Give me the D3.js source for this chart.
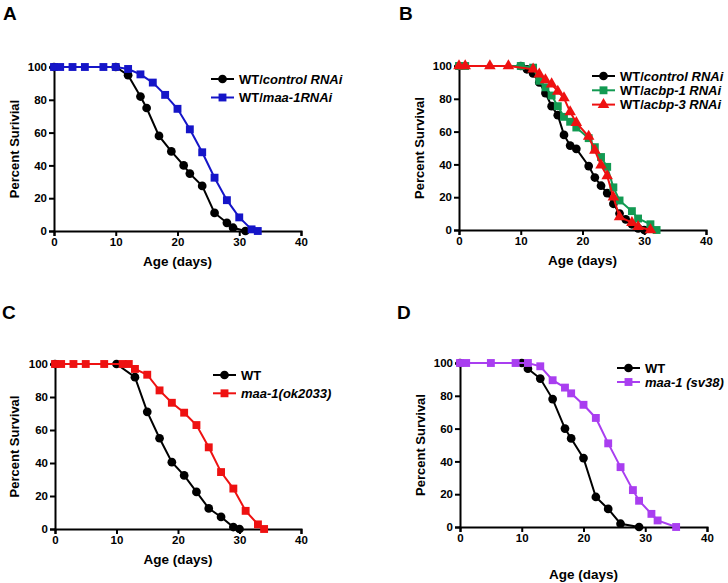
<!DOCTYPE html>
<html lang="en">
<head>
<meta charset="UTF-8">
<title>Survival curves</title>
<script src="https://d3js.org/d3.v7.min.js"></script>
<style>
  body { margin: 0; background: #fff; }
  svg text { font-family: "Liberation Sans", Arial, sans-serif; font-weight: bold; fill: #000; }
  .axis path, .axis line { stroke: #000; stroke-width: 2px; fill: none; }
  .axis text { font-size: 11.5px; }
</style>
</head>
<body>
<script>

// ---- data (day, percent survival) ----
var aControl = [[0,100],[10,100],[12,95],[14,82],[15,75],[17,58],[19,48.5],[21,40],[22,35],[24,27.5],[26,11],[28,5],[29,2],[31,0]];
var aMaa1 = [[0,100],[1,100],[3,100],[5,100],[8,100],[10,100],[12,98.8],[14,95.5],[16,90.5],[18,83],[20,74.5],[22,62],[24,48],[26,32.5],[28,18.8],[30,8.3],[32,1],[33,0]];

var bControl = [[0,100],[10,100],[11,98],[12,95.5],[13,90],[14,83.5],[15,75.5],[16,70],[17,58],[18,51.5],[19,49.5],[21,39],[22,32],[23,27],[24,22.5],[25,16],[26,10],[27,6.5],[28,3.5],[29,1],[30,0]];
var bAcbp1 = [[0,100],[1,100],[10,100],[12,99],[13,91],[14,87],[15,82],[16,75.5],[17,69],[18,66],[19,62.5],[21,56],[22,50.5],[23,44.5],[24,38.5],[25,26],[26,18],[28,11.5],[29,7],[31,3.5],[32,0]];
var bAcbp3 = [[0,100],[1,100],[5,100],[8,100],[12,98],[13,95],[14,91.5],[15,89],[16,84.5],[17,80.5],[18,72],[19,65.5],[21,57],[22,48.5],[23,39.5],[24,33],[25,20],[26,8],[28,4.5],[29,2],[31,0]];

var cWT = [[0,100],[10,100],[13,92],[15,71],[17,55],[19,40.5],[21,32.5],[23,22.5],[25,12.5],[27,7.3],[29,1.2],[30,0]];
var cMaa1 = [[0,100],[1,100],[3,100],[5,100],[8,100],[11,100],[12,100],[13,97],[15,93.5],[17,84],[19,76.5],[21,70.5],[23,63],[25,49.5],[27,34.5],[29,24.5],[31,11],[33,2.8],[34,0]];

var dWT = [[0,100],[10,100],[11,96.5],[13,90.5],[15,78],[17,60],[18,54],[20,42],[22,18.3],[24,11],[26,2],[29,0]];
var dMaa1 = [[0,100],[1,100],[5,100],[9,100],[11,100],[13,98],[15,89.5],[17,85],[18,81.5],[20,74.5],[22,66.5],[24,51],[26,36.5],[28,22.5],[29,16],[31,8],[32,4],[35,0]];

var xTicks = [0, 10, 20, 30, 40];
var yTicks = [0, 20, 40, 60, 80, 100];

// ---- panels: layout only ----
var panels = [
  {letter: "A", lx: 3, ly: 20, x0: 54, x1: 301, yTop: 67, yBot: 231, xLabY: 266, yLabX: 19,
   yTitle: "Percent Surivial", legX: 211, legY: 79, legDy: 18.5,
   series: [
     {data: aControl, color: "#000", shape: "circle", label: ["WT/", "control RNAi"]},
     {data: aMaa1, color: "#1515c8", shape: "square", label: ["WT/", "maa-1RNAi"]}
   ]},
  {letter: "B", lx: 399, ly: 20, x0: 459, x1: 706, yTop: 66, yBot: 230, xLabY: 265, yLabX: 424,
   yTitle: "Percent Survival", legX: 592, legY: 76, legDy: 14.3,
   series: [
     {data: bControl, color: "#000", shape: "circle", label: ["WT/", "control RNAi"]},
     {data: bAcbp1, color: "#129a52", shape: "square", label: ["WT/", "acbp-1 RNAi"]},
     {data: bAcbp3, color: "#ee1111", shape: "triangle", label: ["WT/", "acbp-3 RNAi"]}
   ]},
  {letter: "C", lx: 2, ly: 319, x0: 55, x1: 301, yTop: 364, yBot: 529, xLabY: 564, yLabX: 19,
   yTitle: "Percent Survival", legX: 213, legY: 375, legDy: 18.3,
   series: [
     {data: cWT, color: "#000", shape: "circle", label: ["WT", ""]},
     {data: cMaa1, color: "#ee1111", shape: "square", label: ["", "maa-1(ok2033)"]}
   ]},
  {letter: "D", lx: 397, ly: 319, x0: 460, x1: 707, yTop: 363, yBot: 527, xLabY: 579, yLabX: 425,
   yTitle: "Percent Survival", legX: 617, legY: 368, legDy: 14,
   series: [
     {data: dWT, color: "#000", shape: "circle", label: ["WT", ""]},
     {data: dMaa1, color: "#a93ef0", shape: "square", label: ["", "maa-1 (sv38)"]}
   ]}
];

var svg = d3.select("body").append("svg")
    .attr("width", 728)
    .attr("height", 583);

function symbolFor(shape) {
  if (shape === "square") return d3.symbol().type(d3.symbolSquare).size(62);
  if (shape === "triangle") return d3.symbol().type(d3.symbolTriangle).size(58);
  return d3.symbol().type(d3.symbolCircle).size(60);
}

panels.forEach(function(p) {
  var x = d3.scaleLinear().domain([0, 40]).range([p.x0, p.x1]);
  var y = d3.scaleLinear().domain([0, 100]).range([p.yBot, p.yTop]);

  svg.append("text")
      .attr("x", p.lx)
      .attr("y", p.ly)
      .style("font-size", "19px")
      .text(p.letter);

  svg.append("g")
      .attr("class", "axis")
      .attr("transform", "translate(0," + p.yBot + ")")
      .call(d3.axisBottom(x).tickValues(xTicks).tickSizeOuter(0).tickSize(5).tickPadding(2));

  svg.append("g")
      .attr("class", "axis")
      .attr("transform", "translate(" + p.x0 + ",0)")
      .call(d3.axisLeft(y).tickValues(yTicks).tickSizeOuter(0).tickSize(5).tickPadding(2));

  svg.append("text")
      .attr("x", (p.x0 + p.x1) / 2)
      .attr("y", p.xLabY)
      .attr("text-anchor", "middle")
      .style("font-size", "13.5px")
      .text("Age (days)");

  svg.append("text")
      .attr("transform", "translate(" + p.yLabX + "," + ((p.yTop + p.yBot) / 2) + ") rotate(-90)")
      .attr("text-anchor", "middle")
      .style("font-size", "13px")
      .text(p.yTitle);

  var line = d3.line()
      .x(function(d) { return x(d[0]); })
      .y(function(d) { return y(d[1]); });

  p.series.forEach(function(s, i) {
    svg.append("path")
        .datum(s.data)
        .attr("d", line)
        .attr("fill", "none")
        .attr("stroke", s.color)
        .attr("stroke-width", 2);

    svg.selectAll(null)
        .data(s.data)
        .enter().append("path")
        .attr("d", symbolFor(s.shape))
        .attr("transform", function(d) { return "translate(" + x(d[0]) + "," + y(d[1]) + ")"; })
        .attr("fill", s.color);

    // legend
    var ly = p.legY + i * p.legDy;
    svg.append("line")
        .attr("x1", p.legX).attr("x2", p.legX + 23)
        .attr("y1", ly).attr("y2", ly)
        .attr("stroke", s.color)
        .attr("stroke-width", 2);
    svg.append("path")
        .attr("d", symbolFor(s.shape))
        .attr("transform", "translate(" + (p.legX + 11.5) + "," + ly + ")")
        .attr("fill", s.color);
    var t = svg.append("text")
        .attr("x", p.legX + 28)
        .attr("y", ly + 4.7)
        .style("font-size", "13px");
    t.append("tspan").text(s.label[0]);
    t.append("tspan").style("font-style", "italic").text(s.label[1]);
  });
});

</script>
</body>
</html>
